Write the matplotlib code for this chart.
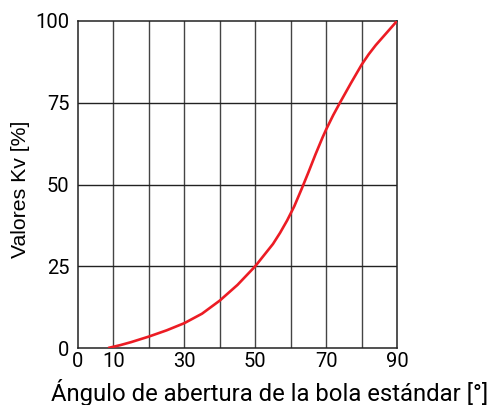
import numpy as np
import matplotlib
matplotlib.use("Agg")
from matplotlib import pyplot as plt

plt.rcParams['font.family'] = ['Roboto', 'DejaVu Sans']

# curve
angle = [8.5, 12, 15, 20, 25, 30, 35, 40, 45, 50, 55, 57, 59, 61, 63, 65, 67, 69, 70,
         72, 74, 77, 80, 82, 84, 87, 90]
kv = [0, 0.9, 1.8, 3.5, 5.4, 7.6, 10.5, 14.5, 19.3, 25, 31.8, 35.2, 39, 43.3, 48.4, 53.7,
      59.2, 64.4, 66.8, 71.2, 75.2, 81.0, 86.6, 89.8, 92.6, 96.3, 100]

xticks = [0, 10, 30, 50, 70, 90]
yticks = [0, 25, 50, 75, 100]

fig = plt.figure(figsize=(4.91, 4.05), dpi=100)
ax = fig.add_axes([78/491, 1-348/405, (397-78)/491, (348-21)/405])

for gx in range(10, 90, 10):
    ax.axvline(gx, color='#444444', lw=1, zorder=1)
for gy in [25, 50, 75]:
    ax.axhline(gy, color='#222222', lw=1, zorder=1)

ax.plot(angle, kv, color='#ec1c24', lw=1.9, zorder=3,
        solid_capstyle='butt', solid_joinstyle='round')

ax.set_xlim(0, 90)
ax.set_ylim(0, 100)
ax.set_xticks(xticks)
ax.set_yticks(yticks)
ax.tick_params(length=0, labelsize=14.5, pad=6)
ax.tick_params(axis='x', pad=3)
for s in ax.spines.values():
    s.set_color('#222222')
    s.set_linewidth(1.1)

ax.set_xlabel('Ángulo de abertura de la bola estándar [°]', fontsize=17.2)
ax.xaxis.set_label_coords(0.602, -0.095)
ax.set_ylabel('Valores Kv [%]', fontsize=15.3,
              family=['Liberation Sans', 'DejaVu Sans'])
ax.yaxis.set_label_coords(-0.152, 0.486)

fig.savefig('out.png', dpi=100)
